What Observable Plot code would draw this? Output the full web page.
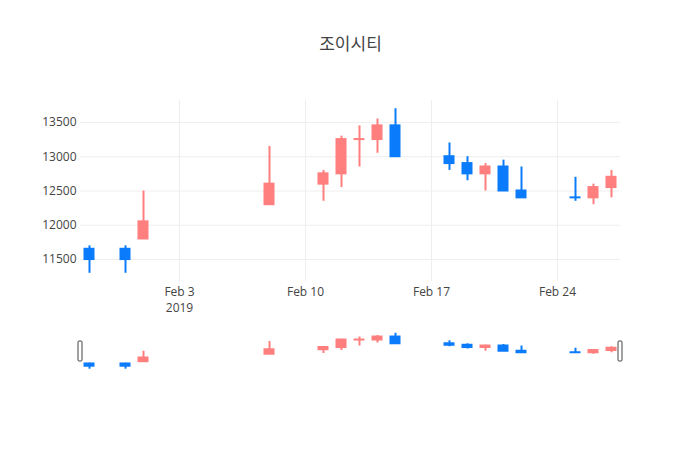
<!DOCTYPE html>
<html>
<head>
<meta charset="utf-8">
<script src="https://cdn.jsdelivr.net/npm/d3@7"></script>
<script src="https://cdn.jsdelivr.net/npm/@observablehq/plot@0.6"></script>
<style>
  html, body { margin: 0; padding: 0; background: #fff; }
  #chart { position: relative; width: 700px; height: 450px; font-family: "Open Sans", "Noto Sans CJK KR", sans-serif; }
  #chart svg { position: absolute; left: 0; overflow: visible; }
</style>
</head>
<body>
<div id="chart"></div>
<script>
const title = "조이시티";
const dates = ["2019-01-29","2019-01-31","2019-02-01","2019-02-08","2019-02-11","2019-02-12","2019-02-13","2019-02-14","2019-02-15","2019-02-18","2019-02-19","2019-02-20","2019-02-21","2019-02-22","2019-02-25","2019-02-26","2019-02-27"];
const opens  = [11650,11650,11800,12300,12600,12750,13250,13250,13450,13000,12900,12750,12850,12500,12400,12400,12550];
const highs  = [11700,11700,12500,13150,12800,13300,13450,13550,13700,13200,13000,12900,12950,12850,12700,12600,12800];
const lows   = [11300,11300,11800,12300,12350,12550,12850,13050,13000,12800,12650,12500,12500,12400,12350,12300,12400];
const closes = [11500,11500,12050,12600,12750,13250,13250,13450,13000,12900,12750,12850,12500,12400,12400,12550,12700];
const yTicks = [11500,12000,12500,13000,13500];
const xTickDates = ["2019-02-03","2019-02-10","2019-02-17","2019-02-24"];
const xTickLabels = ["Feb 3\n2019","Feb 10","Feb 17","Feb 24"];
const xDomain = ["2019-01-28T12:00Z","2019-02-27T12:00Z"];
const yDomain = [11180,13820];
const upColor = "#ff7f7f";
const downColor = "#0a7bfa";

const DAY = 864e5;
// Plotly-style direction: ties use previous close, else keep previous direction
let prevClose = null, inc = true;
const data = dates.map((d, i) => {
  const o = opens[i], c = closes[i];
  if (c === o) { if (prevClose !== null && c !== prevClose) inc = c > prevClose; }
  else inc = c > o;
  prevClose = c;
  return {date: new Date(d), open: o, high: highs[i], low: lows[i], close: c, dir: inc ? "up" : "down"};
});
const tickDates = xTickDates.map(d => new Date(d));
const labelOf = new Map(tickDates.map((d, i) => [+d, xTickLabels[i]]));
const xdom = xDomain.map(d => new Date(d));

function candles(wickWidth) {
  return [
    Plot.ruleX(data, {x: "date", y1: "low", y2: "high", stroke: "dir", strokeWidth: wickWidth}),
    Plot.rect(data, {
      x1: d => new Date(+d.date - 0.25 * DAY), x2: d => new Date(+d.date + 0.25 * DAY),
      y1: "open", y2: "close", fill: "dir",
      insetTop: -1, insetBottom: -1, insetLeft: -1, insetRight: -1
    })
  ];
}
const colorScale = {domain: ["up", "down"], range: [upColor, downColor]};

const main = Plot.plot({
  width: 700, height: 450,
  marginTop: 100, marginBottom: 169, marginLeft: 80, marginRight: 80,
  style: {fontFamily: '"Open Sans", "Noto Sans CJK KR", sans-serif', fontSize: "12px", color: "#444", background: "transparent"},
  x: {type: "utc", domain: xdom},
  y: {domain: yDomain},
  color: colorScale,
  marks: [
    Plot.gridY(yTicks, {stroke: "#eee", strokeOpacity: 1}),
    Plot.gridX(tickDates, {stroke: "#eee", strokeOpacity: 1}),
    Plot.axisY(yTicks, {tickSize: 0, tickPadding: 4, label: null, tickFormat: d => String(d)}),
    Plot.axisX(tickDates, {tickSize: 0, tickPadding: 3, label: null, lineHeight: 1.33, tickFormat: d => labelOf.get(+d)}),
    ...candles(2),
    Plot.text([title], {frameAnchor: "top", dy: -56, lineAnchor: "middle", fontSize: 17, fill: "#444", text: d => d})
  ]
});
main.style.top = "0px";

const slider = Plot.plot({
  width: 700, height: 39.5,
  marginTop: 0, marginBottom: 0, marginLeft: 80, marginRight: 80,
  style: {background: "transparent"},
  x: {type: "utc", domain: xdom, axis: null},
  y: {domain: yDomain, axis: null},
  color: colorScale,
  marks: [
    ...candles(2),
    Plot.rect(xdom, {x1: d => d, x2: d => d, insetLeft: -2, insetRight: -2, insetTop: 10, insetBottom: 9.5, fill: "#fff", stroke: "#444", strokeWidth: 1, rx: 1})
  ]
});
slider.style.top = "330.5px";

const root = document.getElementById("chart");
root.appendChild(main);
root.appendChild(slider);
</script>
</body>
</html>
